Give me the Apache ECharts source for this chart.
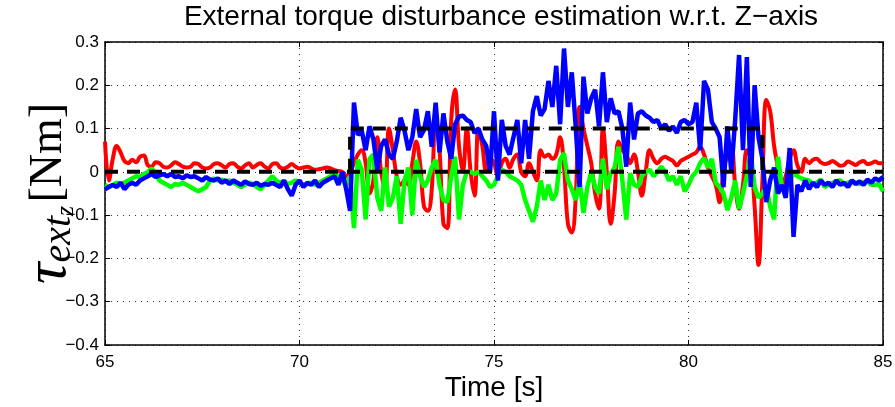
<!DOCTYPE html>
<html>
<head>
<meta charset="utf-8">
<script src="https://cdn.jsdelivr.net/npm/echarts@6/dist/echarts.min.js"></script>
<style>
  html, body { margin: 0; padding: 0; background: #fff; }
  #chart { width: 895px; height: 407px; }
</style>
</head>
<body>
<div id="chart"></div>
<script>
// samples every 0.1 s from 65.0 to 85.0, one row per second
const red = [
  0.07, -0.02, 0.03, 0.06, 0.045, 0.025, 0.02, 0.028, 0.022, 0.035,
  0.038, 0.015, 0.012, 0.022, 0.02, 0.012, 0.01, 0.015, 0.022, 0.018,
  0.012, 0.01, 0.012, 0.02, 0.018, 0.01, 0.008, 0.01, 0.018, 0.02,
  0.015, 0.01, 0.018, 0.02, 0.012, 0.008, 0.015, 0.02, 0.01, 0.016,
  0.02, 0.012, 0.008, 0.018, 0.02, 0.01, 0.008, 0.012, 0.018, 0.012,
  0.008, 0.01, 0.012, 0.008, 0.005, 0.006, 0.008, 0.01, 0.008, 0.004,
  0.002, 0.0, -0.01, 0.0, 0.02, 0.04, 0.05, 0.02, -0.05, -0.02,
  0.08, 0.0, -0.04, 0.1, 0.05, -0.01, -0.03, -0.02, -0.03, 0.02,
  0.07, 0.02, -0.08, -0.09, -0.04, 0.13, 0.05, -0.12, -0.13, 0.12,
  0.19, 0.06, 0.0, 0.1, 0.0, -0.055, 0.1, 0.06, 0.0, 0.03,
  0.02, -0.01, 0.02, 0.03, 0.01, 0.03, 0.04, 0.0, -0.01, 0.02,
  0.0, -0.02, 0.05, 0.035, 0.04, 0.03, 0.04, 0.08, 0.01, -0.12,
  -0.14, -0.06, 0.15, 0.1, 0.06, 0.02, -0.05, -0.085, 0.1, 0.0,
  -0.12, -0.05, 0.07, 0.05, 0.04, 0.02, 0.04, 0.0, -0.055, 0.0,
  0.05, 0.03, 0.02, 0.03, 0.035, 0.03, 0.025, 0.015, 0.025, 0.03,
  0.035, 0.04, 0.045, 0.058, 0.04, 0.01, -0.01, -0.03, -0.07, 0.0,
  0.04, 0.06, -0.03, -0.085, -0.03, 0.05, 0.03, -0.08, -0.215, -0.02,
  0.166, 0.14, 0.06, 0.01, -0.034, -0.01, 0.03, 0.05, 0.015, 0.0,
  0.03, 0.02, 0.028, 0.03, 0.022, 0.018, 0.02, 0.025, 0.02, 0.014,
  0.016, 0.024, 0.02, 0.016, 0.022, 0.025, 0.018, 0.02, 0.024, 0.02,
  0.02
];
const green = [
  -0.03, -0.035, -0.03, -0.025, -0.028, -0.025, -0.02, -0.015, -0.01, -0.012,
  -0.005, 0.0, 0.008, -0.005, -0.02, -0.025, -0.03, -0.035, -0.028, -0.03,
  -0.025, -0.03, -0.035, -0.04, -0.045, -0.04, -0.035, -0.02, -0.015, -0.02,
  -0.018, -0.022, -0.02, -0.025, -0.03, -0.035, -0.03, -0.025, -0.028, -0.035,
  -0.04, -0.03, -0.02, -0.01, -0.02, -0.025, -0.022, -0.028, -0.025, -0.02,
  -0.025, -0.03, -0.028, -0.025, -0.03, -0.025, -0.02, -0.015, -0.01, -0.008,
  -0.01, -0.02, -0.03, -0.01, -0.13, 0.028, 0.005, -0.11, 0.03, 0.04,
  -0.06, -0.09, 0.01, -0.08, -0.06, -0.01, -0.12, -0.02, 0.01, -0.1,
  0.028, -0.01, -0.035, -0.02, 0.01, 0.028, -0.03, -0.065, -0.07, -0.01,
  0.035, -0.11, -0.03, 0.0, 0.0, -0.005, 0.0, -0.01, -0.02, -0.035,
  -0.03, -0.01, 0.005, 0.0, -0.01, -0.015, -0.02, -0.03, -0.065, -0.09,
  -0.115, -0.08, -0.02, -0.065, -0.03, -0.065, -0.05, 0.028, 0.043, -0.02,
  -0.04, -0.065, -0.02, -0.095, -0.035, 0.0, -0.035, -0.05, 0.03, -0.04,
  -0.003, 0.01, 0.058, -0.02, -0.11, -0.003, -0.03, -0.035, -0.01, 0.0,
  0.005, -0.01, 0.0, 0.012, 0.0, -0.02, -0.01, -0.03, -0.01, -0.045,
  -0.03, -0.01, 0.0, 0.02, 0.032, 0.01, 0.03, -0.025, -0.035, -0.05,
  -0.088, -0.06, -0.02, -0.085, -0.05, -0.01, 0.043, -0.035, -0.06, -0.05,
  -0.035, -0.08, -0.11, 0.035, -0.034, -0.05, -0.02, -0.003, -0.01, -0.015,
  -0.018, -0.02, -0.03, -0.025, -0.018, -0.035, -0.03, -0.026, -0.022, -0.019,
  -0.03, -0.025, -0.022, -0.026, -0.028, -0.024, -0.022, -0.03, -0.03, -0.028,
  -0.045
];
const blue = [
  -0.04, -0.035, -0.03, -0.035, -0.025, -0.04, -0.03, -0.025, -0.03, -0.02,
  -0.015, -0.01, -0.005, -0.012, -0.008, -0.005, -0.01, -0.005, -0.012, -0.01,
  -0.015, -0.008, -0.012, -0.01, -0.015, -0.02, -0.012, -0.018, -0.02, -0.015,
  -0.025, -0.02, -0.028, -0.02, -0.025, -0.03, -0.022, -0.028, -0.03, -0.025,
  -0.032, -0.028, -0.03, -0.025, -0.03, -0.035, -0.02, -0.04, -0.055, -0.03,
  -0.02, -0.035, -0.025, -0.03, -0.02, -0.035, -0.025, -0.02, -0.015, -0.01,
  -0.03, 0.0, -0.04, -0.09, 0.16, 0.085, 0.095, 0.05, 0.105, 0.075,
  0.005, 0.06, 0.075, 0.04, 0.03, 0.07, 0.125, 0.095, 0.05, 0.08,
  0.145, 0.08, 0.097, 0.14, 0.058, 0.16, 0.045, 0.135, 0.07, 0.03,
  0.11, 0.128, 0.13, 0.12, 0.115, 0.09, 0.1, 0.075, 0.06, 0.0,
  0.14, -0.02, 0.12, 0.06, 0.04, 0.08, 0.12, 0.02, 0.12, 0.03,
  0.14, 0.175, 0.13, 0.145, 0.21, 0.15, 0.245, 0.11, 0.285, 0.15,
  0.23, 0.105, -0.035, 0.22, 0.135, 0.17, 0.19, 0.105, 0.23, 0.115,
  0.17, 0.135, 0.14, 0.1, 0.012, 0.16, 0.075, 0.135, 0.14, 0.13,
  0.125, 0.115, 0.12, 0.1, 0.11, 0.095, 0.105, 0.09, 0.115, 0.12,
  0.11, 0.115, 0.16, 0.05, 0.21, 0.19, 0.115, 0.1, 0.08, -0.035,
  0.105, 0.0, 0.12, 0.27, 0.05, 0.265, -0.035, 0.2, 0.08, 0.03,
  -0.07, -0.02, 0.01, -0.05, -0.03, -0.06, 0.055, -0.15, -0.03, -0.045,
  -0.02, -0.04, -0.025, -0.035, -0.02, -0.03, -0.025, -0.035, -0.02, -0.03,
  -0.025, -0.035, -0.02, -0.028, -0.022, -0.03, -0.018, -0.025, -0.015, -0.02,
  -0.012
];
// reference torque: the pulse and the zero line
const pulseT = [71.3, 71.3, 81.9, 81.9];
const pulseV = [0, 0.1, 0.1, 0];
const zeroT = [65, 85];
const zeroV = [0, 0];

const time = red.map((_, i) => +(65 + i * 0.1).toFixed(1));
const pairs = (xs, ys) => xs.map((x, i) => [x, ys[i]]);

const chart = echarts.init(document.getElementById("chart"));
const font = "'Liberation Sans', Arial, Helvetica, sans-serif";
const serif = "'Liberation Serif', 'DejaVu Serif', serif";

const tickStyle = { show: true, inside: true, length: 5, lineStyle: { color: "#000", width: 1 } };
const dotted = { show: true, lineStyle: { color: "#000", width: 1, type: [1, 5], opacity: 0.8 } };

chart.setOption({
  animation: false,
  backgroundColor: "#fff",
  title: {
    text: "External torque disturbance estimation w.r.t. Z\u2212axis",
    left: 496,
    top: -2,
    textAlign: "center",
    textStyle: { fontFamily: font, fontSize: 28, fontWeight: "normal", color: "#000" }
  },
  grid: { left: 105, right: 12, top: 42, bottom: 62, containLabel: false, outerBoundsMode: "none" },
  xAxis: [
    {
      type: "value",
      min: 65,
      max: 85,
      interval: 5,
      name: "Time [s]",
      nameLocation: "middle",
      nameGap: 29,
      nameMoveOverlap: false,
      nameTextStyle: { fontFamily: font, fontSize: 28, color: "#000" },
      axisLine: { show: true, onZero: false, lineStyle: { color: "#000", width: 1.5 } },
      axisTick: tickStyle,
      axisLabel: { fontFamily: font, fontSize: 17, color: "#000", margin: 9 },
      splitLine: dotted
    },
    {
      type: "value",
      position: "top",
      min: 65,
      max: 85,
      interval: 5,
      axisLine: { show: true, onZero: false, lineStyle: { color: "#000", width: 1.5 } },
      axisTick: tickStyle,
      axisLabel: { show: false },
      splitLine: { show: false }
    }
  ],
  yAxis: [
    {
      type: "value",
      min: -0.4,
      max: 0.3,
      interval: 0.1,
      name: "{t|\u03c4}{e|ext}{z|z} {n|[Nm]}",
      nameLocation: "middle",
      nameRotate: 90,
      nameGap: 26,
      nameMoveOverlap: false,
      nameTextStyle: {
        color: "#000",
        rich: {
          t: { fontFamily: serif, fontStyle: "italic", fontSize: 60, color: "#000" },
          e: { fontFamily: serif, fontStyle: "italic", fontSize: 40, color: "#000", verticalAlign: "bottom", padding: [18, 0, 0, 0] },
          z: { fontFamily: serif, fontStyle: "italic", fontSize: 26, color: "#000", verticalAlign: "bottom", padding: [34, 0, 0, 0] },
          n: { fontFamily: serif, fontSize: 46, color: "#000" }
        }
      },
      axisLine: { show: true, onZero: false, lineStyle: { color: "#000", width: 1.5 } },
      axisTick: tickStyle,
      axisLabel: {
        fontFamily: font,
        fontSize: 17,
        color: "#000",
        margin: 6,
        formatter: v => (Math.abs(v) < 1e-9 ? "0" : v.toFixed(1).replace("-", "\u2212"))
      },
      splitLine: dotted
    },
    {
      type: "value",
      position: "right",
      min: -0.4,
      max: 0.3,
      interval: 0.1,
      axisLine: { show: true, onZero: false, lineStyle: { color: "#000", width: 1.5 } },
      axisTick: tickStyle,
      axisLabel: { show: false },
      splitLine: { show: false }
    }
  ],
  series: [
    {
      name: "red",
      type: "line",
      showSymbol: false,
      smooth: 0.4,
      data: pairs(time, red),
      lineStyle: { color: "#ff0000", width: 4 },
      itemStyle: { color: "#ff0000" }
    },
    {
      name: "green",
      type: "line",
      showSymbol: false,
      data: pairs(time, green),
      lineStyle: { color: "#00ff00", width: 4.5 },
      itemStyle: { color: "#00ff00" }
    },
    {
      name: "blue",
      type: "line",
      showSymbol: false,
      data: pairs(time, blue),
      lineStyle: { color: "#0000ff", width: 4.5 },
      itemStyle: { color: "#0000ff" }
    },
    {
      name: "zero",
      type: "line",
      showSymbol: false,
      data: pairs(zeroT, zeroV),
      lineStyle: { color: "#000", width: 4, type: [13, 9] },
      itemStyle: { color: "#000" }
    },
    {
      name: "pulse",
      type: "line",
      showSymbol: false,
      data: pairs(pulseT, pulseV),
      lineStyle: { color: "#000", width: 4, type: [13, 9] },
      itemStyle: { color: "#000" }
    }
  ]
});
</script>
</body>
</html>
